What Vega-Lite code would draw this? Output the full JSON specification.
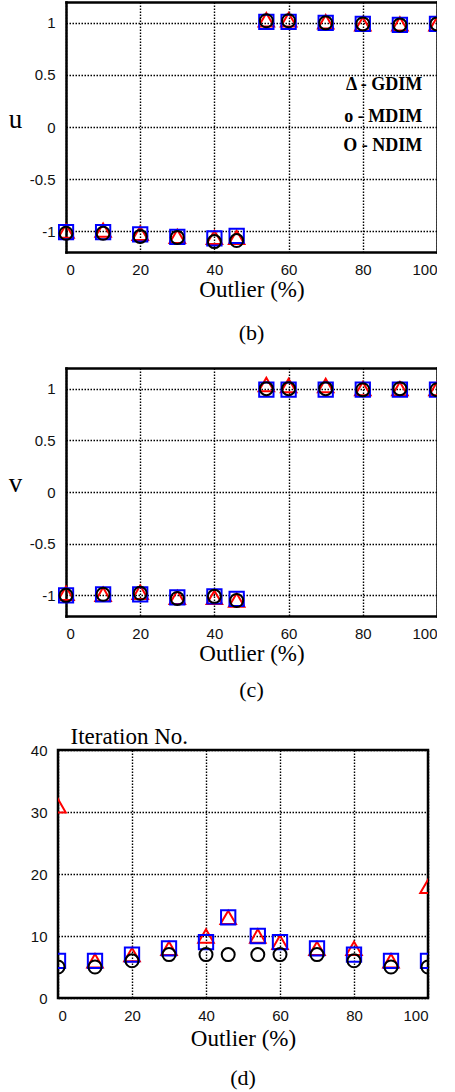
{
  "$schema": "https://vega.github.io/schema/vega-lite/v6.json",
  "padding": {"left": 8, "top": 2, "right": 0, "bottom": 0},
  "columns": 1,
  "align": "none",
  "bounds": "full",
  "spacing": 18,
  "background": "white",
  "config": {
    "view": {"stroke": "black", "strokeWidth": 2.5},
    "axis": {
      "domain": false,
      "grid": true,
      "ticks": false,
      "gridColor": "black",
      "gridDash": [1.5, 1.5],
      "gridWidth": 1.4,
      "gridOpacity": 1,
      "domainColor": "black",
      "domainWidth": 2.5,
      "domainCap": "square",
      "labelFont": "Liberation Sans",
      "labelFontSize": 15,
      "labelColor": "#111",
      "labelExpr": "'' + datum.value",
      "titleFont": "Liberation Serif",
      "titleFontWeight": "normal",
      "titleColor": "black"
    },
    "title": {"font": "Liberation Serif", "fontSize": 22, "fontWeight": "normal", "color": "black", "orient": "bottom", "anchor": "middle"}
  },
  "datasets": {
    "u": [
      {"x": 0, "method": "GDIM", "value": -1.0},
      {"x": 10, "method": "GDIM", "value": -0.99},
      {"x": 20, "method": "GDIM", "value": -1.02},
      {"x": 30, "method": "GDIM", "value": -1.05},
      {"x": 40, "method": "GDIM", "value": -1.06},
      {"x": 46, "method": "GDIM", "value": -1.06},
      {"x": 54, "method": "GDIM", "value": 1.03},
      {"x": 60, "method": "GDIM", "value": 1.03},
      {"x": 70, "method": "GDIM", "value": 1.01},
      {"x": 80, "method": "GDIM", "value": 0.99},
      {"x": 90, "method": "GDIM", "value": 0.99},
      {"x": 100, "method": "GDIM", "value": 0.99},
      {"x": 0, "method": "NDIM", "value": -1.01},
      {"x": 10, "method": "NDIM", "value": -1.01},
      {"x": 20, "method": "NDIM", "value": -1.03},
      {"x": 30, "method": "NDIM", "value": -1.055},
      {"x": 40, "method": "NDIM", "value": -1.07},
      {"x": 46, "method": "NDIM", "value": -1.045},
      {"x": 54, "method": "NDIM", "value": 1.01},
      {"x": 60, "method": "NDIM", "value": 1.01},
      {"x": 70, "method": "NDIM", "value": 1.0},
      {"x": 80, "method": "NDIM", "value": 0.99},
      {"x": 90, "method": "NDIM", "value": 0.98},
      {"x": 100, "method": "NDIM", "value": 0.99},
      {"x": 0, "method": "MDIM", "value": -1.02},
      {"x": 10, "method": "MDIM", "value": -1.02},
      {"x": 20, "method": "MDIM", "value": -1.05},
      {"x": 30, "method": "MDIM", "value": -1.06},
      {"x": 40, "method": "MDIM", "value": -1.1},
      {"x": 46, "method": "MDIM", "value": -1.09},
      {"x": 54, "method": "MDIM", "value": 1.02},
      {"x": 60, "method": "MDIM", "value": 1.02},
      {"x": 70, "method": "MDIM", "value": 1.0},
      {"x": 80, "method": "MDIM", "value": 0.99},
      {"x": 90, "method": "MDIM", "value": 0.98},
      {"x": 100, "method": "MDIM", "value": 0.99}
    ],
    "v": [
      {"x": 0, "method": "GDIM", "value": -0.98},
      {"x": 10, "method": "GDIM", "value": -0.99},
      {"x": 20, "method": "GDIM", "value": -0.97},
      {"x": 30, "method": "GDIM", "value": -1.02},
      {"x": 40, "method": "GDIM", "value": -1.02},
      {"x": 46, "method": "GDIM", "value": -1.045},
      {"x": 54, "method": "GDIM", "value": 1.04},
      {"x": 60, "method": "GDIM", "value": 1.03},
      {"x": 70, "method": "GDIM", "value": 1.03},
      {"x": 80, "method": "GDIM", "value": 1.0},
      {"x": 90, "method": "GDIM", "value": 1.0},
      {"x": 100, "method": "GDIM", "value": 1.0},
      {"x": 0, "method": "NDIM", "value": -1.0},
      {"x": 10, "method": "NDIM", "value": -0.99},
      {"x": 20, "method": "NDIM", "value": -0.99},
      {"x": 30, "method": "NDIM", "value": -1.02},
      {"x": 40, "method": "NDIM", "value": -1.01},
      {"x": 46, "method": "NDIM", "value": -1.035},
      {"x": 54, "method": "NDIM", "value": 0.99},
      {"x": 60, "method": "NDIM", "value": 0.99},
      {"x": 70, "method": "NDIM", "value": 0.99},
      {"x": 80, "method": "NDIM", "value": 0.99},
      {"x": 90, "method": "NDIM", "value": 0.99},
      {"x": 100, "method": "NDIM", "value": 0.99},
      {"x": 0, "method": "MDIM", "value": -1.0},
      {"x": 10, "method": "MDIM", "value": -0.99},
      {"x": 20, "method": "MDIM", "value": -0.98},
      {"x": 30, "method": "MDIM", "value": -1.03},
      {"x": 40, "method": "MDIM", "value": -1.01},
      {"x": 46, "method": "MDIM", "value": -1.05},
      {"x": 54, "method": "MDIM", "value": 1.0},
      {"x": 60, "method": "MDIM", "value": 1.0},
      {"x": 70, "method": "MDIM", "value": 1.0},
      {"x": 80, "method": "MDIM", "value": 0.99},
      {"x": 90, "method": "MDIM", "value": 1.0},
      {"x": 100, "method": "MDIM", "value": 0.99}
    ],
    "iter": [
      {"x": 0, "method": "GDIM", "value": 31},
      {"x": 10, "method": "GDIM", "value": 6},
      {"x": 20, "method": "GDIM", "value": 7},
      {"x": 30, "method": "GDIM", "value": 8},
      {"x": 40, "method": "GDIM", "value": 10},
      {"x": 46, "method": "GDIM", "value": 13},
      {"x": 54, "method": "GDIM", "value": 10},
      {"x": 60, "method": "GDIM", "value": 9},
      {"x": 70, "method": "GDIM", "value": 8},
      {"x": 80, "method": "GDIM", "value": 8},
      {"x": 90, "method": "GDIM", "value": 6},
      {"x": 100, "method": "GDIM", "value": 18},
      {"x": 0, "method": "NDIM", "value": 6},
      {"x": 10, "method": "NDIM", "value": 6},
      {"x": 20, "method": "NDIM", "value": 7},
      {"x": 30, "method": "NDIM", "value": 8},
      {"x": 40, "method": "NDIM", "value": 9},
      {"x": 46, "method": "NDIM", "value": 13},
      {"x": 54, "method": "NDIM", "value": 10},
      {"x": 60, "method": "NDIM", "value": 9},
      {"x": 70, "method": "NDIM", "value": 8},
      {"x": 80, "method": "NDIM", "value": 7},
      {"x": 90, "method": "NDIM", "value": 6},
      {"x": 100, "method": "NDIM", "value": 6},
      {"x": 0, "method": "MDIM", "value": 5},
      {"x": 10, "method": "MDIM", "value": 5},
      {"x": 20, "method": "MDIM", "value": 6},
      {"x": 30, "method": "MDIM", "value": 7},
      {"x": 40, "method": "MDIM", "value": 7},
      {"x": 46, "method": "MDIM", "value": 7},
      {"x": 54, "method": "MDIM", "value": 7},
      {"x": 60, "method": "MDIM", "value": 7},
      {"x": 70, "method": "MDIM", "value": 7},
      {"x": 80, "method": "MDIM", "value": 6},
      {"x": 90, "method": "MDIM", "value": 5},
      {"x": 100, "method": "MDIM", "value": 5}
    ],
    "legend": [
      {"x": 96, "value": 0.4, "label": "Δ - GDIM"},
      {"x": 96, "value": 0.1, "label": "o - MDIM"},
      {"x": 96, "value": -0.18, "label": "O - NDIM"}
    ]
  },
  "concat": [
    {
      "width": 379,
      "height": 250,
      "view": {"stroke": null},
      "title": {"text": ["(b)", " "], "offset": 22, "lineHeight": 5.5, "dx": 4},
      "resolve": {"axis": {"x": "independent", "y": "independent"}},
      "layer": [
        {
          "data": {"name": "u"},
          "mark": {"type": "point", "filled": false, "strokeWidth": 2, "clip": true, "opacity": 1},
          "encoding": {
            "x": {"field": "x", "type": "quantitative", "scale": {"domain": [0, 100], "range": [8, 379], "nice": false},
              "axis": {"values": [0, 20, 40, 60, 80, 100], "title": "Outlier (%)", "titleFontSize": 23, "titlePadding": 1, "labelPadding": 10, "domain": true}},
            "y": {"field": "value", "type": "quantitative", "scale": {"domain": [-1.2, 1.2], "nice": false},
              "axis": {"values": [-1, -0.5, 0, 0.5, 1], "offset": -8, "domain": true, "title": "u", "titleAngle": 0, "titleX": -51, "titleY": 125, "titleAlign": "center", "titleBaseline": "alphabetic", "titleFontSize": 27, "labelPadding": 11}},
            "shape": {"field": "method", "type": "nominal", "scale": {"domain": ["GDIM", "NDIM", "MDIM"], "range": ["triangle-up", "square", "circle"]}, "legend": null},
            "color": {"field": "method", "type": "nominal", "scale": {"domain": ["GDIM", "NDIM", "MDIM"], "range": ["#ff0000", "#0000ff", "#000000"]}, "legend": null},
            "size": {"field": "method", "type": "nominal", "scale": {"domain": ["GDIM", "NDIM", "MDIM"], "range": [240, 169, 144]}, "legend": null}
          }
        },
        {
          "data": {"name": "legend"},
          "mark": {"type": "text", "align": "right", "baseline": "middle", "font": "Liberation Serif", "fontSize": 18, "fontWeight": "bold", "color": "black"},
          "encoding": {
            "x": {"field": "x", "type": "quantitative", "axis": {"orient": "top", "labels": false, "grid": false, "title": null, "domain": true}},
            "y": {"field": "value", "type": "quantitative", "axis": {"orient": "right", "labels": false, "grid": false, "title": null, "domain": true}},
            "text": {"field": "label"}
          }
        }
      ]
    },
    {
      "width": 379,
      "height": 248,
      "view": {"stroke": null},
      "title": {"text": ["(c)", " "], "offset": 15, "lineHeight": 4, "dx": 4},
      "data": {"name": "v"},
      "resolve": {"axis": {"x": "independent", "y": "independent"}},
      "layer": [
        {
          "mark": {"type": "point", "filled": false, "strokeWidth": 2, "clip": true, "opacity": 1},
          "encoding": {
            "x": {"field": "x", "type": "quantitative", "scale": {"domain": [0, 100], "range": [8, 379], "nice": false},
              "axis": {"values": [0, 20, 40, 60, 80, 100], "title": "Outlier (%)", "titleFontSize": 23, "titlePadding": 1, "labelPadding": 10, "domain": true}},
            "y": {"field": "value", "type": "quantitative", "scale": {"domain": [-1.2, 1.2], "nice": false},
              "axis": {"values": [-1, -0.5, 0, 0.5, 1], "offset": -8, "domain": true, "title": "v", "titleAngle": 0, "titleX": -51, "titleY": 123, "titleAlign": "center", "titleBaseline": "alphabetic", "titleFontSize": 27, "labelPadding": 11}},
            "shape": {"field": "method", "type": "nominal", "scale": {"domain": ["GDIM", "NDIM", "MDIM"], "range": ["triangle-up", "square", "circle"]}, "legend": null},
            "color": {"field": "method", "type": "nominal", "scale": {"domain": ["GDIM", "NDIM", "MDIM"], "range": ["#ff0000", "#0000ff", "#000000"]}, "legend": null},
            "size": {"field": "method", "type": "nominal", "scale": {"domain": ["GDIM", "NDIM", "MDIM"], "range": [240, 169, 144]}, "legend": null}
          }
        },
        {
          "mark": {"type": "point", "opacity": 0, "clip": true},
          "encoding": {
            "x": {"field": "x", "type": "quantitative", "axis": {"orient": "top", "labels": false, "grid": false, "title": null, "domain": true}},
            "y": {"field": "value", "type": "quantitative", "axis": {"orient": "right", "labels": false, "grid": false, "title": null, "domain": true}}
          }
        }
      ]
    },
    {
      "width": 370,
      "height": 248,
      "title": {"text": "(d)", "offset": 18},
      "data": {"name": "iter"},
      "mark": {"type": "point", "filled": false, "strokeWidth": 2, "clip": true, "opacity": 1},
      "encoding": {
        "x": {"field": "x", "type": "quantitative", "scale": {"domain": [0, 100], "nice": false},
          "axis": {"values": [0, 20, 40, 60, 80, 100], "title": "Outlier (%)", "titleFontSize": 23, "titlePadding": 4, "labelPadding": 10}},
        "y": {"field": "value", "type": "quantitative", "scale": {"domain": [0, 40], "nice": false},
          "axis": {"values": [0, 10, 20, 30, 40], "title": "Iteration No.", "titleAngle": 0, "titleX": 12, "titleY": -7, "titleAlign": "left", "titleBaseline": "alphabetic", "titleFontSize": 23, "labelPadding": 11}},
        "shape": {"field": "method", "type": "nominal", "scale": {"domain": ["GDIM", "NDIM", "MDIM"], "range": ["triangle-up", "square", "circle"]}, "legend": null},
        "color": {"field": "method", "type": "nominal", "scale": {"domain": ["GDIM", "NDIM", "MDIM"], "range": ["#ff0000", "#0000ff", "#000000"]}, "legend": null},
        "size": {"field": "method", "type": "nominal", "scale": {"domain": ["GDIM", "NDIM", "MDIM"], "range": [240, 169, 144]}, "legend": null}
      }
    }
  ]
}
